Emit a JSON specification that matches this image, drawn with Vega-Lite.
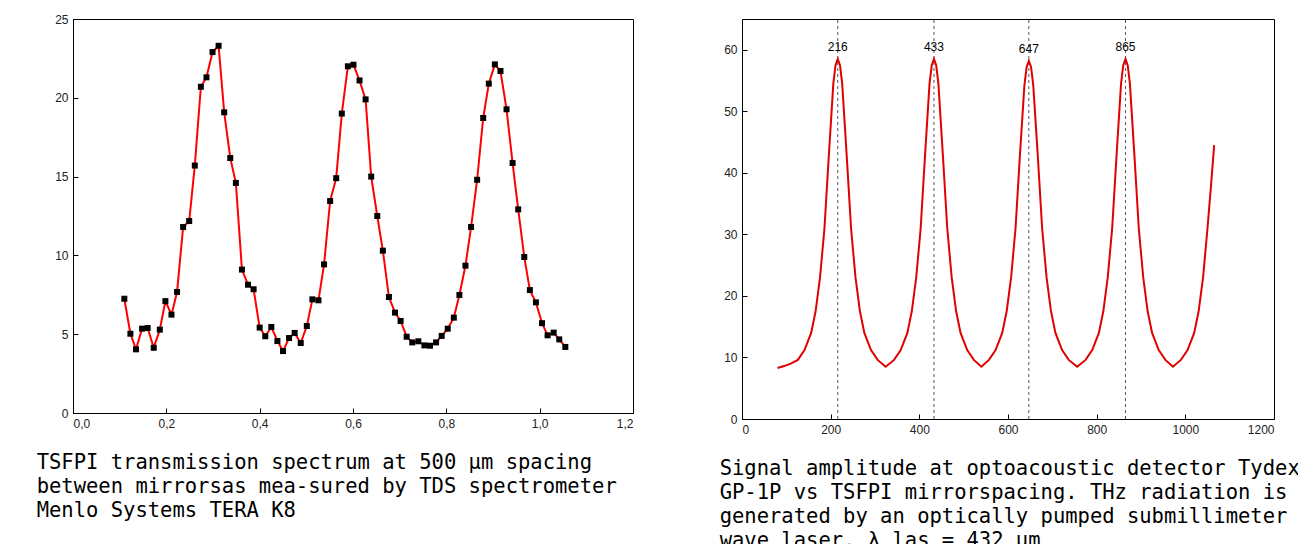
{
"$schema":"https://vega.github.io/schema/vega-lite/v6.json",
"padding":{"left":36,"top":12,"right":5,"bottom":0},
"background":"white",
"config":{"view":{"stroke":"black","strokeWidth":1},"axis":{"grid":false,"labelFont":"Liberation Sans","labelFontSize":12,"labelColor":"#222","domainColor":"black","tickColor":"black","title":null,"tickSize":-5,"labelPadding":10},
"title":{"orient":"bottom","anchor":"start","font":"DejaVu Sans Mono","fontSize":20.5,"fontWeight":"normal","lineHeight":24,"color":"black","offset":24}},
"spacing":85,
"datasets":{
"left":[{"x":0.110,"y":7.25},{"x":0.123,"y":5.03},{"x":0.135,"y":4.04},{"x":0.148,"y":5.35},{"x":0.160,"y":5.39},{"x":0.173,"y":4.14},{"x":0.186,"y":5.29},{"x":0.198,"y":7.1},{"x":0.211,"y":6.24},{"x":0.223,"y":7.68},{"x":0.236,"y":11.8},{"x":0.249,"y":12.18},{"x":0.261,"y":15.7},{"x":0.274,"y":20.7},{"x":0.286,"y":21.3},{"x":0.299,"y":22.9},{"x":0.312,"y":23.3},{"x":0.324,"y":19.08},{"x":0.337,"y":16.18},{"x":0.349,"y":14.6},{"x":0.362,"y":9.1},{"x":0.375,"y":8.14},{"x":0.387,"y":7.85},{"x":0.400,"y":5.42},{"x":0.412,"y":4.87},{"x":0.425,"y":5.46},{"x":0.438,"y":4.57},{"x":0.450,"y":3.93},{"x":0.463,"y":4.76},{"x":0.475,"y":5.08},{"x":0.488,"y":4.44},{"x":0.501,"y":5.52},{"x":0.513,"y":7.21},{"x":0.526,"y":7.15},{"x":0.538,"y":9.43},{"x":0.551,"y":13.45},{"x":0.564,"y":14.9},{"x":0.576,"y":19.0},{"x":0.589,"y":22.0},{"x":0.601,"y":22.1},{"x":0.614,"y":21.1},{"x":0.627,"y":19.9},{"x":0.639,"y":15.0},{"x":0.652,"y":12.5},{"x":0.664,"y":10.3},{"x":0.677,"y":7.36},{"x":0.690,"y":6.37},{"x":0.702,"y":5.84},{"x":0.715,"y":4.84},{"x":0.727,"y":4.48},{"x":0.740,"y":4.55},{"x":0.753,"y":4.29},{"x":0.765,"y":4.27},{"x":0.778,"y":4.48},{"x":0.790,"y":4.89},{"x":0.803,"y":5.35},{"x":0.816,"y":6.05},{"x":0.828,"y":7.49},{"x":0.841,"y":9.35},{"x":0.853,"y":11.8},{"x":0.866,"y":14.8},{"x":0.879,"y":18.72},{"x":0.891,"y":20.9},{"x":0.904,"y":22.12},{"x":0.916,"y":21.7},{"x":0.929,"y":19.27},{"x":0.942,"y":15.86},{"x":0.954,"y":12.92},{"x":0.967,"y":9.9},{"x":0.979,"y":7.8},{"x":0.992,"y":7.02},{"x":1.005,"y":5.7},{"x":1.017,"y":4.93},{"x":1.030,"y":5.1},{"x":1.042,"y":4.67},{"x":1.055,"y":4.19}],
"right":[{"x":80,"y":8.3},{"x":95,"y":8.6},{"x":110,"y":9.0},{"x":126,"y":9.6},{"x":141,"y":11.2},{"x":156,"y":14},{"x":166,"y":17.5},{"x":176,"y":23},{"x":186,"y":31},{"x":196,"y":43},{"x":206,"y":54.5},{"x":211,"y":57.5},{"x":216,"y":58.5},{"x":221,"y":57.5},{"x":226,"y":54.5},{"x":236,"y":43},{"x":246,"y":31},{"x":256,"y":23},{"x":266,"y":17.5},{"x":276,"y":14},{"x":291,"y":11.2},{"x":306,"y":9.6},{"x":324,"y":8.5},
{"x":343,"y":9.6},{"x":358,"y":11.2},{"x":373,"y":14},{"x":383,"y":17.5},{"x":393,"y":23},{"x":403,"y":31},{"x":413,"y":43},{"x":423,"y":54.5},{"x":428,"y":57.5},{"x":433,"y":58.5},{"x":438,"y":57.5},{"x":443,"y":54.5},{"x":453,"y":43},{"x":463,"y":31},{"x":473,"y":23},{"x":483,"y":17.5},{"x":493,"y":14},{"x":508,"y":11.2},{"x":523,"y":9.6},{"x":540,"y":8.5},
{"x":557,"y":9.6},{"x":572,"y":11.2},{"x":587,"y":14},{"x":597,"y":17.5},{"x":607,"y":23},{"x":617,"y":31},{"x":627,"y":43},{"x":637,"y":54.2},{"x":642,"y":57.2},{"x":647,"y":58.2},{"x":652,"y":57.2},{"x":657,"y":54.2},{"x":667,"y":43},{"x":677,"y":31},{"x":687,"y":23},{"x":697,"y":17.5},{"x":707,"y":14},{"x":722,"y":11.2},{"x":737,"y":9.6},{"x":756,"y":8.5},
{"x":775,"y":9.6},{"x":790,"y":11.2},{"x":805,"y":14},{"x":815,"y":17.5},{"x":825,"y":23},{"x":835,"y":31},{"x":845,"y":43},{"x":855,"y":54.5},{"x":860,"y":57.5},{"x":865,"y":58.5},{"x":870,"y":57.5},{"x":875,"y":54.5},{"x":885,"y":43},{"x":895,"y":31},{"x":905,"y":23},{"x":915,"y":17.5},{"x":925,"y":14},{"x":940,"y":11.2},{"x":955,"y":9.6},{"x":972,"y":8.5},
{"x":990,"y":9.6},{"x":1005,"y":11.2},{"x":1020,"y":14},{"x":1030,"y":17.5},{"x":1040,"y":23},{"x":1050,"y":31},{"x":1058,"y":38},{"x":1065,"y":44.5}],
"peaks":[{"x":216,"y":58.5,"lab":"216"},{"x":433,"y":58.5,"lab":"433"},{"x":647,"y":58.2,"lab":"647"},{"x":865,"y":58.5,"lab":"865"}]
},
"hconcat":[
{"width":560,"height":394,
"title":{"text":["TSFPI transmission spectrum at 500 μm spacing","between mirrorsas mea-sured by TDS spectrometer","Menlo Systems TERA K8"],"dx":-18},
"data":{"name":"left"},
"encoding":{"x":{"field":"x","type":"quantitative","scale":{"domain":[0,1.2],"nice":false},"axis":{"values":[0,0.2,0.4,0.6,0.8,1.0,1.2],"labelExpr":"replace(format(datum.value,'.1f'),'.',',')"}},
"y":{"field":"y","type":"quantitative","scale":{"domain":[0,25]},"axis":{"values":[0,5,10,15,20,25]}}},
"layer":[{"mark":{"type":"line","color":"#ff0000","strokeWidth":2}},{"mark":{"type":"square","color":"black","size":36,"opacity":1,"filled":true}}]},
{"width":532,"height":400,
"title":{"text":["Signal amplitude at optoacoustic detector Tydex","GP-1P vs TSFPI mirrorspacing. THz radiation is","generated by an optically pumped submillimeter","wave laser, λ las = 432 μm"],"dx":-4},
"layer":[
{"data":{"name":"peaks"},"mark":{"type":"rule","color":"#555","strokeDash":[3,3],"strokeWidth":1},"encoding":{"x":{"field":"x","type":"quantitative"},"y":{"datum":0},"y2":{"datum":65}}},
{"data":{"name":"right"},"mark":{"type":"line","color":"#e00000","strokeWidth":2},
"encoding":{"x":{"field":"x","type":"quantitative","scale":{"domain":[0,1200],"nice":false},"axis":{"values":[0,200,400,600,800,1000,1200],"format":"d"}},
"y":{"field":"y","type":"quantitative","scale":{"domain":[0,65],"nice":false},"axis":{"values":[0,10,20,30,40,50,60]}}}},
{"data":{"name":"peaks"},"mark":{"type":"text","font":"Liberation Sans","fontSize":12,"dy":-12,"color":"black"},"encoding":{"x":{"field":"x","type":"quantitative"},"y":{"field":"y","type":"quantitative"},"text":{"field":"lab"}}}
]}
]
}
